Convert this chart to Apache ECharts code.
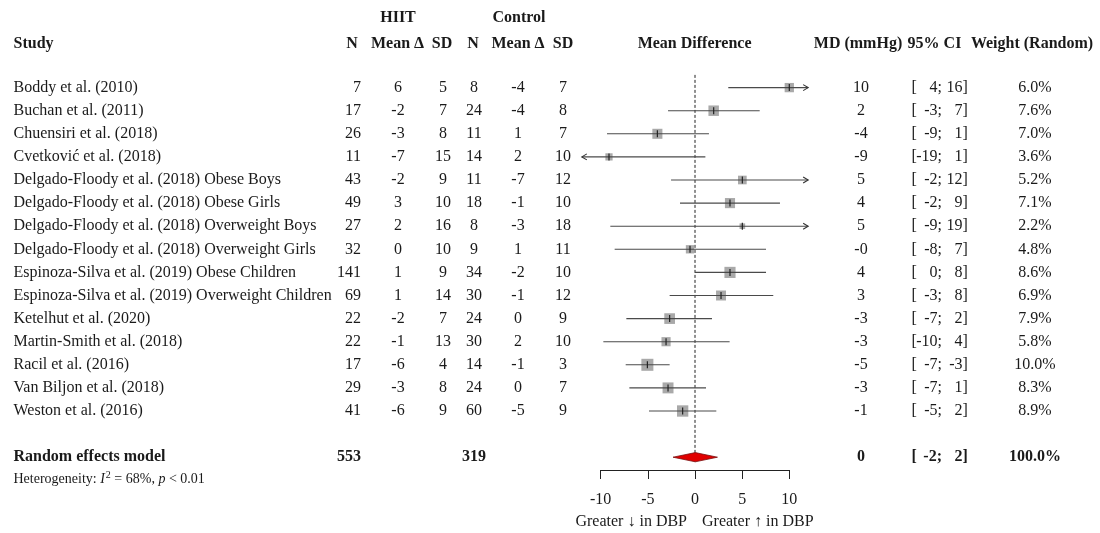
<!DOCTYPE html>
<html><head><meta charset="utf-8">
<script src="https://cdn.jsdelivr.net/npm/echarts@6/dist/echarts.min.js"></script>
<style>html,body{margin:0;padding:0;background:#fff}#c{width:1100px;height:533px}</style>
</head><body><div id="c"></div>
<script>
// ---------------- data ----------------
const studies = [
  'Boddy et al. (2010)',
  'Buchan et al. (2011)',
  'Chuensiri et al. (2018)',
  'Cvetković et al. (2018)',
  'Delgado-Floody et al. (2018) Obese Boys',
  'Delgado-Floody et al. (2018) Obese Girls',
  'Delgado-Floody et al. (2018) Overweight Boys',
  'Delgado-Floody et al. (2018) Overweight Girls',
  'Espinoza-Silva et al. (2019) Obese Children',
  'Espinoza-Silva et al. (2019) Overweight Children',
  'Ketelhut et al. (2020)',
  'Martin-Smith et al. (2018)',
  'Racil et al. (2016)',
  'Van Biljon et al. (2018)',
  'Weston et al. (2016)'
];
const hiitN    = [7, 17, 26, 11, 43, 49, 27, 32, 141, 69, 22, 22, 17, 29, 41];
const hiitMean = [6, -2, -3, -7, -2, 3, 2, 0, 1, 1, -2, -1, -6, -3, -6];
const hiitSD   = [5, 7, 8, 15, 9, 10, 16, 10, 9, 14, 7, 13, 4, 8, 9];
const ctrlN    = [8, 24, 11, 14, 11, 18, 8, 9, 34, 30, 24, 30, 14, 24, 60];
const ctrlMean = [-4, -4, 1, 2, -7, -1, -3, 1, -2, -1, 0, 2, -1, 0, -5];
const ctrlSD   = [7, 8, 7, 10, 12, 10, 18, 11, 10, 12, 9, 10, 3, 7, 9];
const mdText   = ['10', '2', '-4', '-9', '5', '4', '5', '-0', '4', '3', '-3', '-3', '-5', '-3', '-1'];
const ciLowText  = [4, -3, -9, -19, -2, -2, -9, -8, 0, -3, -7, -10, -7, -7, -5];
const ciHighText = [16, 7, 1, 1, 12, 9, 19, 7, 8, 8, 2, 4, -3, 1, 2];
const weightText = ['6.0%', '7.6%', '7.0%', '3.6%', '5.2%', '7.1%', '2.2%', '4.8%', '8.6%', '6.9%', '7.9%', '5.8%', '10.0%', '8.3%', '8.9%'];
const weightVal  = [6.0, 7.6, 7.0, 3.6, 5.2, 7.1, 2.2, 4.8, 8.6, 6.9, 7.9, 5.8, 10.0, 8.3, 8.9];
// plotted effect estimates and CIs
const estPlot  = [10.0, 1.98, -3.99, -9.12, 5.02, 3.71, 5.02, -0.53, 3.71, 2.76, -2.69, -3.07, -5.05, -2.86, -1.31];
const loPlot   = [3.53, -2.86, -9.33, -19.0, -2.54, -1.59, -8.98, -8.52, 0.0, -2.69, -7.28, -9.72, -7.35, -6.96, -4.88];
const hiPlot   = [16.0, 6.86, 1.48, 1.10, 12.4, 9.01, 19.0, 7.53, 7.53, 8.30, 1.80, 3.67, -2.69, 1.17, 2.26];
// pooled (random effects)
const pooled = { label: 'Random effects model', nHiit: 553, nCtrl: 319, md: '0', lo: -2, hi: 2, weight: '100.0%', est: 0.03, low: -2.33, high: 2.38 };
const hetText = { i2: '68%', p: '0.01' };
const axisTicks = [-10, -5, 0, 5, 10];

// ---------------- layout ----------------
const FONT = '"Liberation Serif", "Times New Roman", serif';
const TXT = '#1a1a1a';
const ROW0 = 87.6, ROWH = 23.1;
const XZERO = 695, PXU = 9.43, XLIM = 12;
const YMIN = -0.6, YMAX = 16.6;
const pooledRow = 16;

const COL = { study: 13.5, hN: 361, hM: 398, hSD: 443, cN: 474, cM: 518, cSD: 563, md: 861, ciL: 911.5, ciSemi: 942, ciHi: 962.5, w: 1035 };

function txt(x, y, text, align, bold, size) {
  return { type: 'text', style: { x: x, y: y, text: String(text), align: align, verticalAlign: 'middle',
    font: (bold ? 'bold ' : '') + (size || 16) + 'px ' + FONT, fill: TXT } };
}
function ciParts(y, lo, hi, bold) {
  return [
    txt(COL.ciL, y, '[', 'left', bold),
    txt(COL.ciSemi, y, lo + ';', 'right', bold),
    txt(COL.ciHi, y, hi, 'right', bold),
    txt(COL.ciHi, y, ']', 'left', bold)
  ];
}

const rows = studies.map((s, i) => [i, estPlot[i], loPlot[i], hiPlot[i], weightVal[i]]);

function tableItem(params, api) {
  const i = api.value(0);
  const y = api.coord([0, i])[1];
  const c = [
    txt(COL.study, y, studies[i], 'left'),
    txt(COL.hN, y, hiitN[i], 'right'),
    txt(COL.hM, y, hiitMean[i], 'center'),
    txt(COL.hSD, y, hiitSD[i], 'center'),
    txt(COL.cN, y, ctrlN[i], 'center'),
    txt(COL.cM, y, ctrlMean[i], 'center'),
    txt(COL.cSD, y, ctrlSD[i], 'center'),
    txt(COL.md, y, mdText[i], 'center'),
    txt(COL.w, y, weightText[i], 'center')
  ].concat(ciParts(y, ciLowText[i], ciHighText[i], false));
  return { type: 'group', children: c };
}

function forestItem(params, api) {
  const row = api.value(0), est = api.value(1), lo = api.value(2), hi = api.value(3), w = api.value(4);
  const loC = Math.max(lo, -XLIM), hiC = Math.min(hi, XLIM);
  const p1 = api.coord([loC, row]), p2 = api.coord([hiC, row]), pe = api.coord([est, row]);
  const s = 3.8 * Math.sqrt(w);
  const ch = [];
  ch.push({ type: 'rect', shape: { x: pe[0] - s / 2, y: pe[1] - s / 2, width: s, height: s }, style: { fill: '#a9a9a9' } });
  ch.push({ type: 'line', shape: { x1: p1[0], y1: p1[1], x2: p2[0], y2: p2[1] }, style: { stroke: '#4a4a4a', lineWidth: 1.1 } });
  ch.push({ type: 'line', shape: { x1: pe[0], y1: pe[1] - 3.5, x2: pe[0], y2: pe[1] + 3.5 }, style: { stroke: '#222', lineWidth: 1.2 } });
  if (hi > XLIM) ch.push({ type: 'polyline', shape: { points: [[p2[0] - 5, p2[1] - 3], [p2[0], p2[1]], [p2[0] - 5, p2[1] + 3]] }, style: { stroke: '#333', lineWidth: 1.1, fill: null } });
  if (lo < -XLIM) ch.push({ type: 'polyline', shape: { points: [[p1[0] + 5, p1[1] - 3], [p1[0], p1[1]], [p1[0] + 5, p1[1] + 3]] }, style: { stroke: '#333', lineWidth: 1.1, fill: null } });
  return { type: 'group', children: ch };
}

function pooledItem(params, api) {
  const row = api.value(0), est = api.value(1), lo = api.value(2), hi = api.value(3);
  const y = api.coord([0, row])[1];
  const b = api.coord([est, row - 0.2]), c = api.coord([hi, row]), d = api.coord([est, row + 0.2]);
  const l = api.coord([lo, row]);
  const ch = [
    { type: 'polygon', shape: { points: [[l[0], l[1]], [b[0], b[1]], [c[0], c[1]], [d[0], d[1]]] }, style: { fill: '#e00000', stroke: '#7a1010', lineWidth: 0.8 } },
    txt(COL.study, y, pooled.label, 'left', true),
    txt(COL.hN, y, pooled.nHiit, 'right', true),
    txt(COL.cN, y, pooled.nCtrl, 'center', true),
    txt(COL.md, y, pooled.md, 'center', true),
    txt(COL.w, y, pooled.weight, 'center', true)
  ].concat(ciParts(y, pooled.lo, pooled.hi, true));
  return { type: 'group', children: ch };
}

function refLineItem(params, api) {
  const t = api.coord([0, -0.55]), b = api.coord([0, 16.2]);
  return { type: 'line', shape: { x1: t[0], y1: t[1], x2: b[0], y2: b[1] }, style: { stroke: '#222', lineWidth: 1, lineDash: [3, 2] } };
}

const gridTop = ROW0 + YMIN * ROWH;
const gridH = (YMAX - YMIN) * ROWH;
const xL = XZERO - XLIM * PXU, xR = XZERO + XLIM * PXU;
const aL = XZERO - 10 * PXU, aR = XZERO + 10 * PXU;
const axisY = 470;

const headerRow1 = 18, headerRow2 = 44;
const headers = [
  [398, headerRow1, 'HIIT', 'center'], [519, headerRow1, 'Control', 'center'],
  [COL.study, headerRow2, 'Study', 'left'], [352, headerRow2, 'N', 'center'], [397.5, headerRow2, 'Mean Δ', 'center'],
  [442, headerRow2, 'SD', 'center'], [473, headerRow2, 'N', 'center'], [518, headerRow2, 'Mean Δ', 'center'],
  [563, headerRow2, 'SD', 'center'], [694.6, headerRow2, 'Mean Difference', 'center'], [858, headerRow2, 'MD (mmHg)', 'center'],
  [934.5, headerRow2, '95% CI', 'center'], [1032, headerRow2, 'Weight (Random)', 'center']
];

const chart = echarts.init(document.getElementById('c'), null, { renderer: 'canvas' });
chart.setOption({
  animation: false,
  backgroundColor: '#fff',
  grid: [
    { left: xL, width: xR - xL, top: gridTop, height: gridH },
    { left: aL, width: aR - aL, top: axisY - 60, height: 60 }
  ],
  xAxis: [
    { gridIndex: 0, type: 'value', min: -XLIM, max: XLIM, show: false },
    { gridIndex: 1, type: 'value', min: -10, max: 10, interval: 5, position: 'bottom',
      axisLine: { show: true, onZero: false, lineStyle: { color: '#222', width: 1 } },
      axisTick: { show: true, length: 9, inside: false, lineStyle: { color: '#222' } },
      axisLabel: { margin: 22, color: TXT, fontSize: 16, fontFamily: FONT, customValues: axisTicks },
      splitLine: { show: false } }
  ],
  yAxis: [
    { gridIndex: 0, type: 'value', min: YMIN, max: YMAX, inverse: true, show: false },
    { gridIndex: 1, type: 'value', min: 0, max: 1, show: false }
  ],
  graphic: headers.map(h => ({ type: 'text', x: h[0], y: h[1], style: { text: h[2], align: h[3], verticalAlign: 'middle', font: 'bold 16px ' + FONT, fill: TXT } }))
    .concat([
      { type: 'text', x: COL.study, y: 479, style: { text: '{n|Heterogeneity: }{i|I}{s|2}{n| = ' + hetText.i2 + ', }{i|p}{n| < ' + hetText.p + '}', align: 'left', verticalAlign: 'middle',
        rich: { n: { font: '14px ' + FONT, fill: TXT }, i: { font: 'italic 14px ' + FONT, fill: TXT }, s: { font: '10px ' + FONT, fill: TXT, padding: [0, 0, 7, 1] } } } },
      { type: 'text', x: 687, y: 522, style: { text: 'Greater ↓ in DBP', align: 'right', verticalAlign: 'middle', font: '16px ' + FONT, fill: TXT } },
      { type: 'text', x: 702, y: 522, style: { text: 'Greater ↑ in DBP', align: 'left', verticalAlign: 'middle', font: '16px ' + FONT, fill: TXT } }
    ]),
  series: [
    { type: 'custom', name: 'ref', xAxisIndex: 0, yAxisIndex: 0, clip: false, renderItem: refLineItem, data: [[0]], silent: true, z: 1 },
    { type: 'custom', name: 'studies', xAxisIndex: 0, yAxisIndex: 0, clip: false, renderItem: forestItem, data: rows, silent: true, z: 2 },
    { type: 'custom', name: 'table', xAxisIndex: 0, yAxisIndex: 0, clip: false, renderItem: tableItem, data: studies.map((s, i) => [i]), silent: true, z: 3 },
    { type: 'custom', name: 'pooled', xAxisIndex: 0, yAxisIndex: 0, clip: false, renderItem: pooledItem, data: [[pooledRow, pooled.est, pooled.low, pooled.high]], silent: true, z: 3 }
  ]
});
</script>
</body></html>
